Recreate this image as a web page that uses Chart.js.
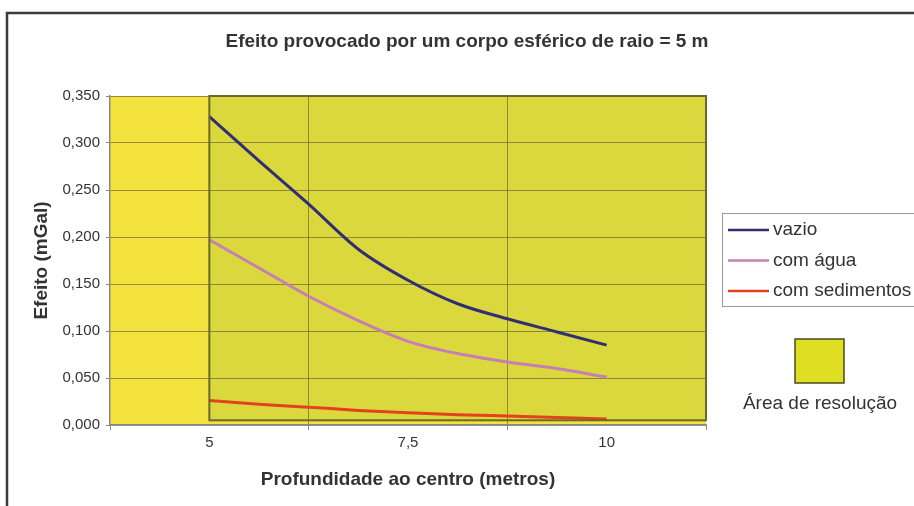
<!DOCTYPE html>
<html>
<head>
<meta charset="utf-8">
<script src="https://cdn.jsdelivr.net/npm/chart.js@4/dist/chart.umd.min.js"></script>
<style>
  html, body { margin: 0; padding: 0; background: #fff; }
  canvas { display: block; }
</style>
</head>
<body>
<canvas id="grafico" width="914" height="506"></canvas>
<script>
// ===========================
// Dados
// ===========================
const profundidade = [5, 5.625, 6.25, 6.875, 7.5, 8.125, 8.75, 9.375, 10];
const vazio = [0.328, 0.281, 0.235, 0.187, 0.154, 0.129, 0.113, 0.099, 0.085];
const comAgua = [0.197, 0.167, 0.137, 0.111, 0.089, 0.076, 0.067, 0.060, 0.051];
const comSedimentos = [0.026, 0.022, 0.019, 0.0155, 0.013, 0.011, 0.0095, 0.008, 0.0065];

const nomesSeries = ['vazio', 'com água', 'com sedimentos'];
const coresSeries = ['#2f2f72', '#c67fb4', '#e2421d'];

// eixo x em "categorias" de 2,5 m, como no Excel
const rotulosX = ['5', '7,5', '10'];
const valoresRotulosX = [5, 7.5, 10];
const limitesX = [3.75, 6.25, 8.75, 11.25];

// área de resolução (x a partir de 5 m)
const resolucaoInicio = 5;
const resolucaoBase = 0.005;

const fonte = 'Liberation Sans, Arial, sans-serif';
const corTexto = '#333';
const corGrade = 'rgba(85,85,50,0.6)';
const corAmarelo = '#f3e23d';
const corZona = '#dbd83e';

const perto = (a, b) => Math.abs(a - b) < 1e-6;

function serie(valores, i) {
    return {
        label: nomesSeries[i],
        data: profundidade.map((p, k) => ({ x: p, y: valores[k] })),
        borderColor: coresSeries[i],
        borderWidth: 3,
        pointRadius: 0,
        cubicInterpolationMode: 'monotone',
        fill: false
    };
}

// ===========================
// Fundo, moldura, título e legenda
// ===========================
const desenhos = {
    id: 'desenhos',
    beforeDraw(chart) {
        const { ctx, chartArea: a, scales: { x, y } } = chart;
        ctx.save();
        // moldura
        ctx.strokeStyle = '#3a3a3a';
        ctx.lineWidth = 2.5;
        ctx.beginPath();
        ctx.moveTo(7, 520);
        ctx.lineTo(7, 13);
        ctx.lineTo(930, 13);
        ctx.stroke();
        // fundo da área de plotagem
        ctx.fillStyle = corAmarelo;
        ctx.fillRect(a.left, a.top, a.right - a.left, a.bottom - a.top);
        // área de resolução
        const x0 = x.getPixelForValue(resolucaoInicio);
        const y0 = y.getPixelForValue(y.max);
        const y1 = y.getPixelForValue(resolucaoBase);
        ctx.fillStyle = corZona;
        ctx.fillRect(x0, y0, a.right - x0, y1 - y0);
        ctx.restore();
    },
    afterDatasetsDraw(chart) {
        const { ctx, chartArea: a, scales: { x, y } } = chart;
        const x0 = x.getPixelForValue(resolucaoInicio);
        const y0 = y.getPixelForValue(y.max);
        const y1 = y.getPixelForValue(resolucaoBase);
        ctx.save();
        ctx.strokeStyle = '#6a6a2c';
        ctx.lineWidth = 2;
        ctx.strokeRect(x0, y0, a.right - x0, y1 - y0);
        ctx.restore();
    },
    afterDraw(chart) {
        const ctx = chart.ctx;
        ctx.save();
        // título
        ctx.fillStyle = corTexto;
        ctx.font = 'bold 19px ' + fonte;
        ctx.textAlign = 'center';
        ctx.textBaseline = 'middle';
        ctx.fillText('Efeito provocado por um corpo esférico de raio = 5 m', 467, 42);

        // legenda das séries
        ctx.strokeStyle = '#9a9a9a';
        ctx.lineWidth = 1;
        ctx.strokeRect(722.5, 213.5, 210, 93);
        ctx.font = '19px ' + fonte;
        ctx.textAlign = 'left';
        chart.data.datasets.forEach((ds, i) => {
            const yy = 230 + i * 30.5;
            ctx.strokeStyle = ds.borderColor;
            ctx.lineWidth = 2.5;
            ctx.beginPath();
            ctx.moveTo(728, yy);
            ctx.lineTo(769, yy);
            ctx.stroke();
            ctx.fillStyle = corTexto;
            ctx.fillText(ds.label, 773, yy);
        });

        // legenda da área de resolução
        ctx.fillStyle = '#dede22';
        ctx.fillRect(795, 339, 49, 44);
        ctx.strokeStyle = '#4a4a22';
        ctx.lineWidth = 1.5;
        ctx.strokeRect(795, 339, 49, 44);
        ctx.fillStyle = corTexto;
        ctx.textAlign = 'center';
        ctx.fillText('Área de resolução', 820, 404);
        ctx.restore();
    }
};

// ===========================
// Gráfico
// ===========================
new Chart(document.getElementById('grafico'), {
    type: 'line',
    data: {
        datasets: [serie(vazio, 0), serie(comAgua, 1), serie(comSedimentos, 2)]
    },
    options: {
        responsive: false,
        animation: false,
        devicePixelRatio: 1,
        layout: { padding: { top: 96, left: 26, right: 208, bottom: 11 } },
        plugins: {
            legend: { display: false },
            title: { display: false },
            tooltip: { enabled: false }
        },
        scales: {
            x: {
                type: 'linear',
                min: 3.75,
                max: 11.25,
                afterBuildTicks: s => {
                    const v = limitesX.concat(valoresRotulosX).sort((a, b) => a - b);
                    s.ticks = v.map(value => ({ value }));
                },
                afterFit: s => { s.height = 70; },
                ticks: {
                    autoSkip: false,
                    maxRotation: 0,
                    padding: 4,
                    color: corTexto,
                    font: { family: fonte, size: 15 },
                    callback: v => {
                        const i = valoresRotulosX.findIndex(r => perto(r, v));
                        return i >= 0 ? rotulosX[i] : '';
                    }
                },
                grid: {
                    tickLength: 5,
                    color: c => (c.tick && limitesX.slice(1, -1).some(l => perto(l, c.tick.value))) ? corGrade : 'rgba(0,0,0,0)',
                    tickColor: c => (c.tick && limitesX.some(l => perto(l, c.tick.value))) ? '#888' : 'rgba(0,0,0,0)'
                },
                border: { color: '#888', width: 1.5 },
                title: {
                    display: true,
                    text: 'Profundidade ao centro (metros)',
                    color: corTexto,
                    font: { family: fonte, size: 19, weight: 'bold' },
                    padding: { top: 4, bottom: 4 }
                }
            },
            y: {
                min: 0,
                max: 0.35,
                afterFit: s => { s.width = 84; },
                ticks: {
                    stepSize: 0.05,
                    padding: 6,
                    color: corTexto,
                    font: { family: fonte, size: 15 },
                    callback: v => v.toFixed(3).replace('.', ',')
                },
                grid: { color: corGrade, tickColor: '#888', tickLength: 4 },
                border: { color: '#888', width: 1.5 },
                title: {
                    display: true,
                    text: 'Efeito (mGal)',
                    color: corTexto,
                    font: { family: fonte, size: 19, weight: 'bold' },
                    padding: { top: 4, bottom: 4 }
                }
            }
        }
    },
    plugins: [desenhos]
});
</script>
</body>
</html>
